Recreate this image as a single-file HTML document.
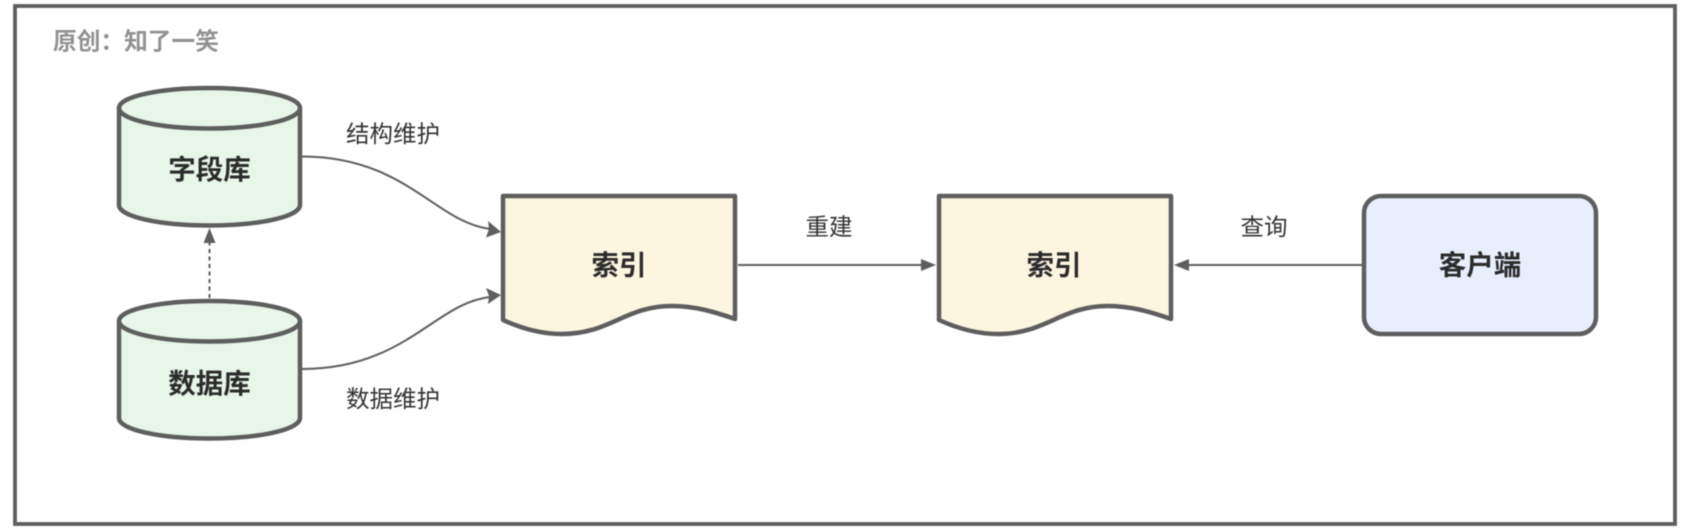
<!DOCTYPE html>
<html lang="zh">
<head>
<meta charset="utf-8">
<style>
html,body{margin:0;padding:0;background:#fff;width:1694px;height:530px;overflow:hidden}
svg{display:block;filter:blur(.4px)}
text{font-family:"Liberation Sans","Noto Sans CJK SC",sans-serif}
.b{font-size:27.500px;font-weight:700;fill:#2b2b2b;text-anchor:middle}
.l{font-size:23.500px;fill:#333;text-anchor:middle}
.s{stroke:#5e5e5e;stroke-width:4.500;stroke-linejoin:round}
.c{fill:none;stroke:#5e5e5e;stroke-width:2}
.a{fill:#5e5e5e;stroke:none}
</style>
</head>
<body>
<svg width="1694" height="530" viewBox="0 0 1694 530" xmlns="http://www.w3.org/2000/svg">
<rect x="15" y="6" width="1660" height="518" fill="#fff" stroke="#5e5e5e" stroke-width="3.800"/>
<text x="53" y="49.500" font-size="23.700" font-weight="700" fill="#929292">原创：知了一笑</text>

<path class="s" fill="#e8f5e9" d="M119 108C119 96.500 160 88 209.500 88S300 96.500 300 108V205C300 216.500 260 225.500 209.500 225.500S119 216.500 119 205Z"/>
<path class="s" fill="none" d="M119 108C119 119.500 160 128.500 209.500 128.500S300 119.500 300 108"/>
<text class="b" x="209.500" y="179">字段库</text>

<path class="s" fill="#e8f5e9" d="M119 321C119 309.500 160 301 209.500 301S300 309.500 300 321V418C300 429.500 260 438.500 209.500 438.500S119 429.500 119 418Z"/>
<path class="s" fill="none" d="M119 321C119 332.500 160 341.500 209.500 341.500S300 332.500 300 321"/>
<text class="b" x="209.500" y="393">数据库</text>

<path class="c" stroke-dasharray="4 3.500" d="M209.500 298V240"/>
<path class="a" d="M209.500 228L215.500 243H203.500Z"/>

<path class="c" d="M302 156.500C405 156.500 435 222 490 229"/>
<path class="a" d="M501 232L486 237.500L489 229L488 221Z"/>
<path class="c" d="M302 369C405 369 435 303 490 297"/>
<path class="a" d="M501 295L488 304L489 296L486 288Z"/>

<text class="l" x="393" y="142">结构维护</text>
<text class="l" x="393" y="407">数据维护</text>

<path class="s" fill="#fcf5e0" d="M503 196H735V319C715 312 695 306 672 306C625 306 610 334 562 334C545 334 525 330 503 320Z"/>
<text class="b" x="619" y="274.500">索引</text>

<path class="s" fill="#fcf5e0" d="M939 196H1171V319C1151 312 1131 306 1108 306C1061 306 1046 334 998 334C981 334 961 330 939 320Z"/>
<text class="b" x="1054" y="274.500">索引</text>

<path class="c" d="M738 265H925"/>
<path class="a" d="M936 265L921 271V259Z"/>
<text class="l" x="829" y="235">重建</text>

<path class="c" d="M1362 265H1184"/>
<path class="a" d="M1174 265L1189 259V271Z"/>
<text class="l" x="1264" y="235">查询</text>

<rect class="s" x="1364" y="196" width="232" height="138" rx="17" ry="17" fill="#e8eefb"/>
<text class="b" x="1480" y="274.500">客户端</text>
</svg>
</body>
</html>
